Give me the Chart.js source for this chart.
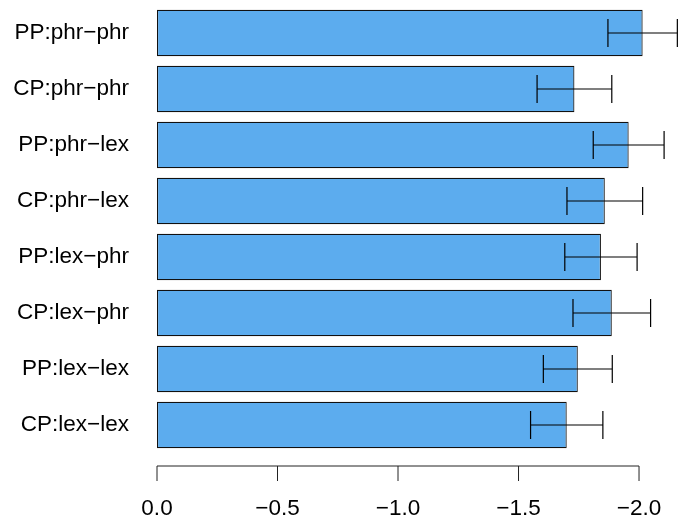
<!DOCTYPE html>
<html>
<head>
<meta charset="utf-8">
<script src="https://cdn.jsdelivr.net/npm/chart.js@4"></script>
<style>
  body { margin: 0; background: #fff; }
  #wrap { width: 680px; height: 523px; }
</style>
</head>
<body>
<div id="wrap"><canvas id="chart"></canvas></div>
<script>
// Data
const categories = ["PP:phr−phr", "CP:phr−phr", "PP:phr−lex", "CP:phr−lex",
                    "PP:lex−phr", "CP:lex−phr", "PP:lex−lex", "CP:lex−lex"];
const means = [-2.015, -1.732, -1.957, -1.858, -1.842, -1.887, -1.746, -1.700];
const errors = [0.144, 0.155, 0.147, 0.157, 0.150, 0.161, 0.143, 0.150];
const xTicks = [0, -0.5, -1, -1.5, -2];
const xTickLabels = ["0.0", "−0.5", "−1.0", "−1.5", "−2.0"];

const FONT = "'Liberation Sans', Arial, Helvetica, sans-serif";

// Error bars drawn with the x scale
const errorBars = {
    id: "errorBars",
    afterDatasetsDraw(chart) {
        const ctx = chart.ctx;
        const x = chart.scales.x;
        const meta = chart.getDatasetMeta(0);
        ctx.save();
        ctx.strokeStyle = "#000";
        ctx.lineWidth = 1.2;
        meta.data.forEach((bar, i) => {
            const x1 = x.getPixelForValue(means[i] + errors[i]);
            const x2 = x.getPixelForValue(means[i] - errors[i]);
            const y = bar.y;
            const cap = bar.height * 0.3;
            ctx.beginPath();
            ctx.moveTo(x1, y); ctx.lineTo(x2, y);
            ctx.moveTo(x1, y - cap); ctx.lineTo(x1, y + cap);
            ctx.moveTo(x2, y - cap); ctx.lineTo(x2, y + cap);
            ctx.stroke();
        });
        ctx.restore();
    }
};

// R style axis line, only across the tick range
const rAxis = {
    id: "rAxis",
    afterDraw(chart) {
        const ctx = chart.ctx;
        const x = chart.scales.x;
        const y0 = chart.chartArea.bottom + 13;
        ctx.save();
        ctx.strokeStyle = "#222";
        ctx.lineWidth = 1;
        ctx.beginPath();
        ctx.moveTo(x.getPixelForValue(xTicks[0]), y0);
        ctx.lineTo(x.getPixelForValue(xTicks[xTicks.length - 1]), y0);
        xTicks.forEach(v => {
            const px = x.getPixelForValue(v);
            ctx.moveTo(px, y0);
            ctx.lineTo(px, y0 + 15);
        });
        ctx.stroke();
        ctx.restore();
    }
};

new Chart(document.getElementById("chart"), {
    type: "bar",
    data: {
        labels: categories,
        datasets: [{
            data: means,
            backgroundColor: "#5CACEE",
            borderColor: "#111",
            borderWidth: 1.2,
            borderSkipped: false,
            categoryPercentage: 1,
            barPercentage: 0.83
        }]
    },
    options: {
        indexAxis: "y",
        responsive: true,
        maintainAspectRatio: false,
        animation: false,
        layout: { padding: { top: 5, right: 0, bottom: 0, left: 0 } },
        plugins: { legend: { display: false }, tooltip: { enabled: false } },
        scales: {
            x: {
                reverse: true,
                min: -2.17,
                max: 0,
                grid: { display: false, drawTicks: false },
                border: { display: false },
                afterBuildTicks: s => { s.ticks = xTicks.map(v => ({ value: v })); },
                afterFit: s => { s.height = 70; s.paddingLeft = 0; s.paddingRight = 0; },
                ticks: {
                    autoSkip: false,
                    maxRotation: 0,
                    padding: 42,
                    color: "#000",
                    font: { family: FONT, size: 22.5 },
                    callback: (v, i) => xTickLabels[i]
                }
            },
            y: {
                grid: { display: false, drawTicks: false },
                border: { display: false },
                afterFit: s => { s.width = 157; s.paddingTop = 0; s.paddingBottom = 0; },
                ticks: {
                    padding: 28,
                    color: "#000",
                    font: { family: FONT, size: 22.5 }
                }
            }
        }
    },
    plugins: [errorBars, rAxis]
});
</script>
</body>
</html>
